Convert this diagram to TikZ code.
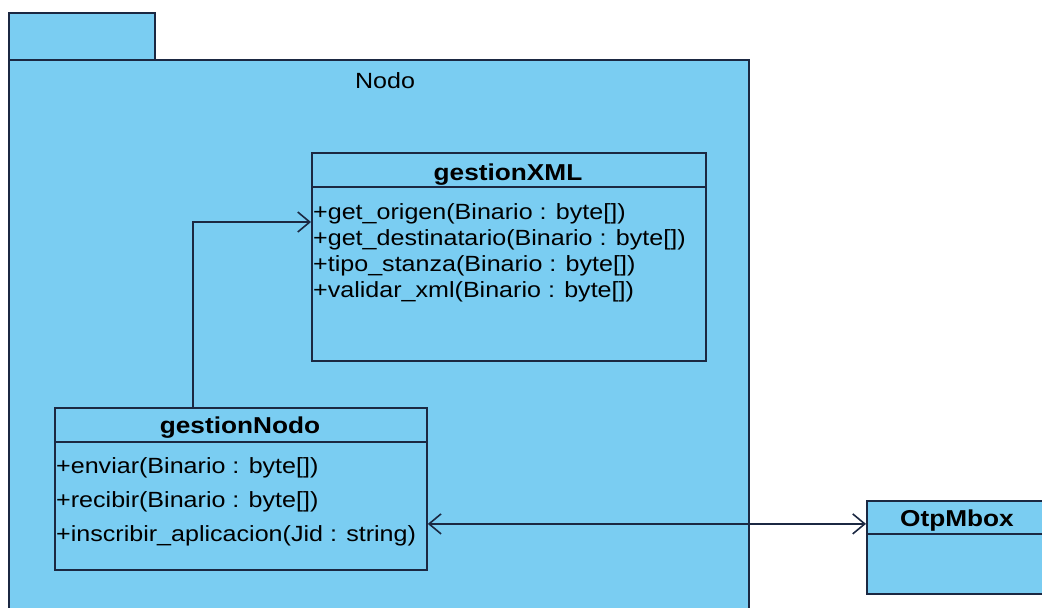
\documentclass[tikz,border=0pt]{standalone}
\usepackage{fontspec}
\setmainfont{Liberation Sans}[FakeStretch=1.14]
\usetikzlibrary{arrows.meta,positioning}
\definecolor{umlfill}{RGB}{122,205,242}
\definecolor{umlline}{RGB}{27,40,66}
\tikzset{
  box/.style={draw=umlline,fill=umlfill,line width=1.8pt,anchor=north west,inner sep=0pt},
  ctitle/.style={font=\fontsize{23}{23}\selectfont\bfseries,anchor=base,inner sep=0pt},
  op/.style={font=\fontsize{22}{22}\selectfont,anchor=base west,inner sep=0pt},
  divider/.style={draw=umlline,line width=1.8pt},
  assoc/.style={draw=umlline,line width=1.6pt,-{Straight Barb[length=12pt,width=20pt]}}
}
\begin{document}
\begin{tikzpicture}[x=1pt,y=-1pt]
\clip (0,0) rectangle (1042,608);
\fill[white] (0,0) rectangle (1042,608);
% package Nodo
\node[box,minimum width=146pt,minimum height=47pt] (pkgtab) at (8,12) {};
\node[box,minimum width=740pt,minimum height=570pt] (pkg) at (8,59) {};
\node[op,anchor=base] (pkgname) at (385,88) {Nodo};
% class gestionXML
\node[box,minimum width=394pt,minimum height=208pt] (gxml) at (311,152) {};
\node[ctitle] (gxmltitle) at (508,180) {gestionXML};
\draw[divider] (gxml.north west) ++(0,35) -- ++(394,0);
\foreach \m [count=\i] in {+get\_origen(Binario : byte[]),
    +get\_destinatario(Binario : byte[]),
    +tipo\_stanza(Binario : byte[]),
    +validar\_xml(Binario : byte[])}
  \node[op] (xmlop\i) at (313,{193+26*\i}) {\m};
% class gestionNodo
\node[box,minimum width=372pt,minimum height=162pt] (gnodo) at (54,407) {};
\node[ctitle] (gnodotitle) at (240,433) {gestionNodo};
\draw[divider] (gnodo.north west) ++(0,35) -- ++(372,0);
\foreach \m [count=\i] in {+enviar(Binario : byte[]),
    +recibir(Binario : byte[]),
    +inscribir\_aplicacion(Jid : string)}
  \node[op] (nodoop\i) at (56,{439+34*\i}) {\m};
% class OtpMbox
\node[box,minimum width=190pt,minimum height=93pt] (otp) at (866,500) {};
\node[ctitle] (otptitle) at (957,526) {OtpMbox};
\draw[divider] (otp.north west) ++(0,34) -- ++(190,0);
% associations
\draw[assoc] ([xshift=139pt]gnodo.north west) |- ([yshift=-70pt]gxml.north west);
\draw[assoc,{Straight Barb[length=12pt,width=20pt]}-{Straight Barb[length=12pt,width=20pt]}]
  ([yshift=-35pt]gnodo.east) -- ([yshift=-35pt]gnodo.east -| otp.west);
\end{tikzpicture}
\end{document}
